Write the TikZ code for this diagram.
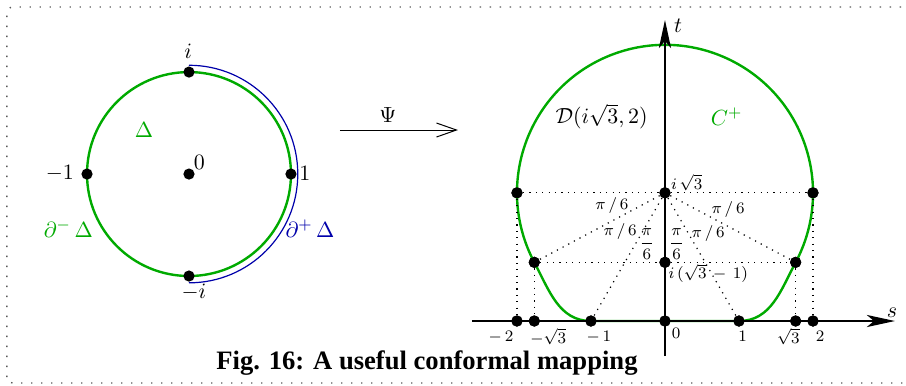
\documentclass[11pt,tikz,border=0pt]{standalone}
\usepackage{amsmath}
\usepackage{fontspec}
\newfontfamily\capfont{Liberation Serif}
\usetikzlibrary{arrows.meta}
\definecolor{curvegreen}{RGB}{0,170,0}
\definecolor{arcblue}{RGB}{0,0,170}
\begin{document}
\begin{tikzpicture}[x=37pt, y=37pt,
        dot/.style={circle, fill=black, inner sep=0pt, minimum size=5.6pt},
        lbl/.style={inner sep=1pt},
        axlbl/.style={font=\scriptsize, inner sep=1pt},
        tinylbl/.style={font=\scriptsize, inner sep=1pt},
        curve/.style={curvegreen, line width=1.2pt},
        guide/.style={line width=0.6pt, dash pattern=on 0.6pt off 2.6pt},
        axis/.style={line width=1.3pt, -{Stealth[length=14pt, width=6pt, inset=3.5pt]}},
        mapto/.style={line width=0.5pt, -{Straight Barb[length=10pt, width=7pt]}}
    ]
        \useasboundingbox (-8.986,-0.865) rectangle (3.257,4.338);

        % Frame
        \draw[black!65, line width=0.7pt, dash pattern=on 0.7pt off 4.3pt, rounded corners=3pt]
            (-8.892,-0.838) rectangle (3.32,4.243);

        % Unit disc
        \coordinate (c0) at (-6.432,1.986);
        \draw[curve] (c0) circle[radius=1.378];
        \draw[arcblue, line width=0.6pt] (-6.432,3.456) arc[start angle=90, end angle=-90, radius=1.47];
        \node[dot] (zi) at (-6.432,3.364) {};
        \node[dot] (zmi) at (-6.432,0.608) {};
        \node[dot] (zm1) at (-7.81,1.986) {};
        \node[dot] (z1) at (-5.054,1.986) {};
        \node[dot] (z0) at (c0) {};

        \node[lbl] (li) at (-6.442,3.64) {$i$};
        \node[lbl] (lmi) at (-6.365,0.396) {$-i$};
        \node[lbl] (lm1) at (-8.176,1.996) {$-1$};
        \node[lbl] (l1) at (-4.865,1.996) {$1$};
        \node[lbl] (l0) at (-6.293,2.145) {$0$};
        \node[lbl, text=curvegreen] (ldelta) at (-7.041,2.581) {$\Delta$};
        \node[lbl, text=curvegreen] (lminus) at (-8.063,1.253) {$\partial^-\,\Delta$};
        \node[lbl, text=arcblue] (lplus) at (-4.797,1.253) {$\partial^+\,\Delta$};

        % Map
        \coordinate (psia) at (-4.392,2.581);
        \coordinate (psib) at (-2.797,2.581);
        \draw[mapto] (psia) -- (psib);
        \node[lbl] (lpsi) at (-3.743,2.784) {$\Psi$};

        % Image domain
        \node[dot] (o) at (0,0) {};
        \node[dot] (m1) at (-1,0) {};
        \node[dot] (p1) at (1,0) {};
        \node[dot] (m2) at (-2,0) {};
        \node[dot] (p2) at (2,0) {};
        \node[dot] (ms3) at (-1.766,0) {};
        \node[dot] (ps3) at (1.766,0) {};
        \node[dot] (isq) at (0,1.732) {};
        \node[dot] (pl) at (-2,1.732) {};
        \node[dot] (pr) at (2,1.732) {};
        \node[dot] (ql) at (-1.766,0.793) {};
        \node[dot] (qr) at (1.766,0.793) {};
        \node[dot] (iq) at (0,0.793) {};

        \draw[curve] (m1.center) -- (p1.center) to[out=0, in=-118] (qr.center)
            arc[start angle=-28, end angle=208, radius=2] to[out=-62, in=180] (m1.center);

        \coordinate (sa) at (-2.608,0);
        \coordinate (se) at (3.108,0);
        \coordinate (ta) at (0,-0.473);
        \coordinate (te) at (0,4.068);
        \draw[axis] (sa) -- (se);
        \draw[axis] (ta) -- (te);

        % Dotted guides
        \draw[guide] (pl) -- (isq) -- (pr);
        \draw[guide] (ql) -- (iq) -- (qr);
        \draw[guide] (pl) -- (m2);
        \draw[guide] (pr) -- (p2);
        \draw[guide] (ql) -- (ms3);
        \draw[guide] (qr) -- (ps3);
        \draw[guide] (isq) -- (ql);
        \draw[guide] (isq) -- (m1);
        \draw[guide] (isq) -- (qr);
        \draw[guide] (isq) -- (p1);

        % Redraw dots on top
        \foreach \p in {o,m1,p1,m2,p2,ms3,ps3,isq,pl,pr,ql,qr,iq}
            \fill (\p) circle[radius=2.8pt];

        % Labels
        \node[lbl] (lt) at (0.176,3.986) {$t$};
        \node[lbl] (ls) at (3.068,0.112) {$s$};
        \node[lbl] (ldisc) at (-0.856,2.761) {$\mathcal{D}(i\sqrt{3},2)$};
        \node[lbl, text=curvegreen] (lcplus) at (0.833,2.761) {$C^+$};
        \node[tinylbl] (lisq) at (0.293,1.869) {$i\,\sqrt{3}$};
        \node[tinylbl] (liq) at (0.586,0.644) {$i\,(\sqrt{3}\,-\,1)$};

        \node[tinylbl] (a1) at (-0.717,1.566) {$\pi\,/\,6$};
        \node[tinylbl] (a2) at (-0.606,1.215) {$\pi\,/\,6$};
        \node[tinylbl] (a3) at (-0.246,1.04) {$\dfrac{\pi}{6}$};
        \node[tinylbl] (a4) at (0.157,1.04) {$\dfrac{\pi}{6}$};
        \node[tinylbl] (a5) at (0.583,1.178) {$\pi\,/\,6$};
        \node[tinylbl] (a6) at (0.852,1.511) {$\pi\,/\,6$};

        \node[axlbl] (lm2) at (-2.216,-0.212) {$-\,2$};
        \node[axlbl] (lms3) at (-1.577,-0.212) {$-\sqrt{3}$};
        \node[axlbl] (lm1r) at (-0.892,-0.212) {$-\,1$};
        \node[axlbl] (lo) at (0.149,-0.167) {$0$};
        \node[axlbl] (l1r) at (1.05,-0.212) {$1$};
        \node[axlbl] (lps3) at (1.667,-0.212) {$\sqrt{3}$};
        \node[axlbl] (lp2) at (2.095,-0.212) {$2$};

        % Caption
        \node[font=\capfont\bfseries\fontsize{13.3}{16}\selectfont, anchor=base] (cap) at (-3.216,-0.649) {Fig. 16: A useful conformal mapping};

    \end{tikzpicture}
\end{document}
